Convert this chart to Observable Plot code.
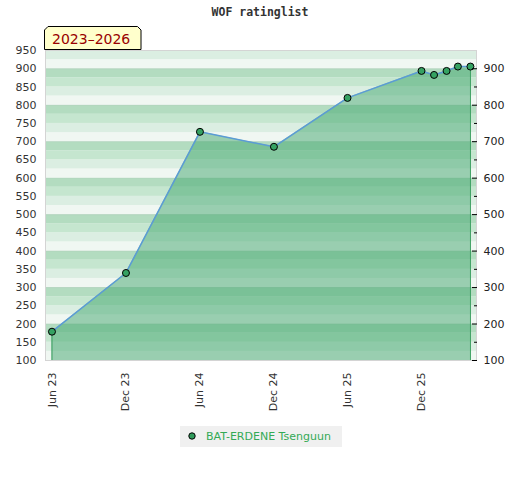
<!DOCTYPE html>
<html><head><meta charset="utf-8">
<script src="https://cdn.jsdelivr.net/npm/d3@7"></script>
<script src="https://cdn.jsdelivr.net/npm/@observablehq/plot@0.6"></script>
<style>
body{margin:0;background:#fff;}
#wrap{position:relative;width:520px;height:480px;overflow:hidden;}
#chart{position:absolute;left:0;top:0;}
#title{position:absolute;top:5px;left:0;width:520px;text-align:center;font:bold 11.5px "DejaVu Sans Mono";color:#333;white-space:pre;}
#badge{position:absolute;left:44px;top:26px;}
#legend{position:absolute;left:180px;top:426px;width:162px;height:21px;background:#f0f0f0;font:11px "DejaVu Sans";color:#33aa55;white-space:nowrap;}
#legend svg{position:absolute;left:7px;top:5px;}
#legend span{position:absolute;left:26px;top:4px;line-height:13px;}
</style></head>
<body><div id="wrap">
<div id="chart"></div>
<div id="title">WOF ratinglist</div>
<svg id="badge" width="98" height="24"><path d="M0.5,23.5V4L4,0.5H93.5L97,4V23.5Z" fill="#ffffcc" stroke="#000"/><text x="8" y="18" font-family="DejaVu Sans" font-size="14" fill="#990000">2023–2026</text></svg>
<div id="legend"><svg width="10" height="10"><circle cx="5" cy="5" r="3.2" fill="#2f9a5a" stroke="#000" stroke-width="1"/></svg><span>BAT-ERDENE Tsenguun</span></div>
</div>
<script>
const dates = ["2023-06-01","2023-12-01","2024-06-01","2024-12-01","2025-06-01","2025-12-01","2026-01-01","2026-02-01","2026-03-01","2026-04-01"];
const ratings = [179, 340, 727, 686, 820, 894, 883, 894, 906, 906];
const xTicks = ["2023-06-01","2023-12-01","2024-06-01","2024-12-01","2025-06-01","2025-12-01"];
const yTicksLeft = [100,150,200,250,300,350,400,450,500,550,600,650,700,750,800,850,900,950];
const yTicksRight = [100,200,300,400,500,600,700,800,900];
const yTicksMinor = [150,250,350,450,550,650,750,850];
const stripeColors = ["#f0f7f2","#dbeee2","#c5e6cf","#b3dcc0"];
const stripeStarts = [100,125,150,175,200,225,250,275,300,325,350,375,400,425,450,475,500,525,550,575,600,625,650,675,700,725,750,775,800,825,850,875,900,925];

const data = dates.map((d, i) => ({date: new Date(d), value: ratings[i]}));
const stripes = stripeStarts.map((v, i) => ({y1: v, y2: v + 25, color: stripeColors[i % 4]}));
const fmt = d3.utcFormat("%b %y");

const chart = Plot.plot({
  width: 520, height: 420,
  marginTop: 50, marginBottom: 60, marginLeft: 45, marginRight: 44,
  style: {fontFamily: "DejaVu Sans", fontSize: "11px", color: "#333", background: "transparent", overflow: "visible"},
  x: {type: "utc", domain: [new Date("2023-05-16"), new Date("2026-04-16")], label: null},
  y: {domain: [100, 950], label: null},
  color: {type: "identity"},
  marks: [
    Plot.rectY(stripes, {y1: "y1", y2: "y2", fill: "color"}),
    Plot.ruleY(yTicksRight, {stroke: "#b0c8b8", strokeOpacity: 0.35}),
    Plot.areaY(data, {x: "date", y1: 100, y2: "value", fill: "#41a56d", fillOpacity: 0.5}),
    Plot.ruleX([data[0], data[data.length - 1]], {x: "date", y1: 100, y2: "value", stroke: "#3a9e5f", strokeWidth: 1}),
    Plot.line(data, {x: "date", y: "value", stroke: "#5b9bd5", strokeWidth: 1.5}),
    Plot.dot(data, {x: "date", y: "value", r: 3.5, fill: "#35a262", stroke: "#000", strokeWidth: 1}),
    Plot.frame({stroke: "#d4d4d4"}),
    Plot.axisY({anchor: "left", ticks: yTicksLeft, tickSize: 0, tickPadding: 9, label: null}),
    Plot.axisY({anchor: "right", ticks: yTicksRight, tickSize: 0, tickPadding: 7, label: null, fill: "#222"}),
    Plot.axisY({anchor: "right", ticks: yTicksRight, tickSize: 5, dx: -5, text: null, label: null, stroke: "#000"}),
    Plot.axisY({anchor: "right", ticks: yTicksMinor, tickSize: 3, dx: -3, text: null, label: null, stroke: "#000"}),
    Plot.axisX({ticks: xTicks.map(d => new Date(d)), tickFormat: fmt, tickRotate: -90, tickSize: 0, tickPadding: 12, label: null})
  ]
});
document.getElementById("chart").appendChild(chart);
</script>
</body></html>
